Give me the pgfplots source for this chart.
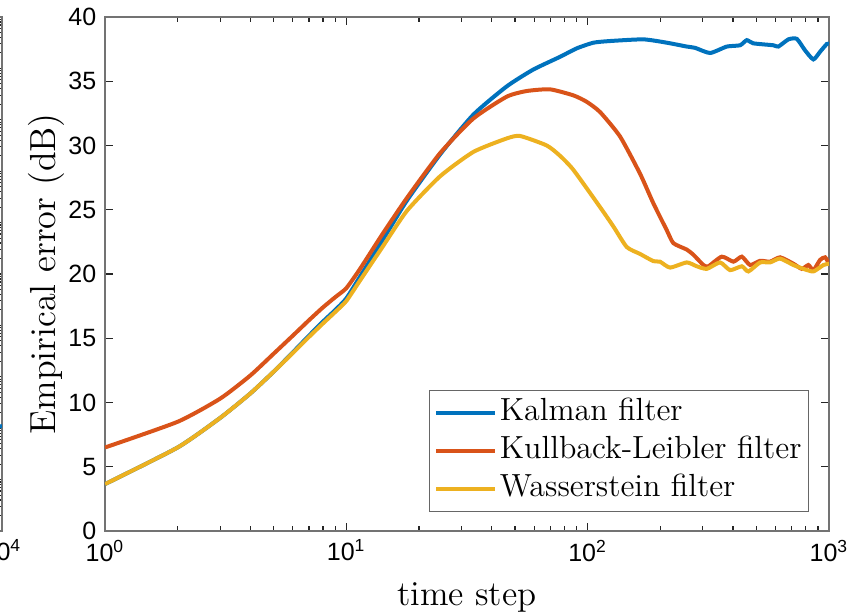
\documentclass[border=0pt]{standalone}
\usepackage{fontspec}
\usepackage{pgfplots}
\pgfplotsset{compat=1.18}
\newfontfamily\arial{Liberation Sans}
\definecolor{mblue}{HTML}{0072BD}
\definecolor{morange}{HTML}{D95319}
\definecolor{myellow}{HTML}{EDB120}

\pgfplotsset{
  mlab/.style={
    scale only axis, width=289.6pt, height=205.6pt,
    axis line style={black!55, line width=0.45pt},
    tick style={black!85, line width=0.45pt},
    tick align=inside,
    major tick length=3.2pt, minor tick length=2pt,
    /pgf/number format/assume math mode=true,
    ticklabel style={font=\arial\fontsize{10}{12}\selectfont},
  }
}

\begin{document}
\begin{tikzpicture}
  % neighbouring panel, only its right edge shows
  \begin{axis}[mlab, at={(-41.2pt,0pt)}, anchor=south east,
      xmode=log, ymode=log, xmin=1, xmax=1e4, ymin=1e-8, ymax=1e2,
      xtick={1,10,100,1000,10000},
      xticklabels={10\textsuperscript{0},10\textsuperscript{1},10\textsuperscript{2},10\textsuperscript{3},10\textsuperscript{4}},
      ytickten={-8,...,2}, yticklabels={}]
    \addplot[mblue, line width=1.6pt] coordinates {(3000,6e-7) (6000,8e-7) (10000,1.1e-6)};
  \end{axis}

  \begin{axis}[mlab, at={(0pt,0pt)}, anchor=south west,
      xmode=log, xmin=1, xmax=1000, ymin=0, ymax=40,
      xtick={1,10,100,1000},
      xticklabels={10\textsuperscript{0},10\textsuperscript{1},10\textsuperscript{2},10\textsuperscript{3}},
      ytick={0,5,...,40},
      xlabel={time step}, ylabel={Empirical error (dB)},
      label style={font=\fontsize{14}{16}\selectfont},
      xlabel style={at={(axis description cs:0.5,0)}, anchor=north, yshift=-17pt},
      ylabel style={at={(axis description cs:-0.043,0.5)}, anchor=south, font=\fontsize{14.5}{16}\selectfont},
      legend style={at={(0.9724,0.037)}, anchor=south east, draw=black!60, line width=0.45pt,
        inner xsep=1.8pt, inner ysep=1.2pt, font=\fontsize{12.8}{14}\selectfont,
        nodes={inner xsep=1pt, inner ysep=1.65pt, text height=9pt, text depth=3pt}},
      legend cell align=left,
      legend image code/.code={\draw[#1] (0pt,0pt) -- (23.6pt,0pt);},
      every axis plot/.append style={line width=1.6pt, smooth, tension=0.35}]
    \addplot[mblue] coordinates {
      (1,3.65) (2,6.5) (3,8.8) (4,10.7) (5,12.4) (6,13.9) (7,15.2) (8,16.3) (9,17.2) (10,18.1)
      (11.4,19.8) (14,22.5) (17.8,25.7) (24.45,29.3) (33.6,32.4) (46.2,34.6) (59.4,35.9)
      (76.8,36.9) (90.1,37.56) (105.6,38.0) (123.8,38.13) (170.2,38.26) (212.8,38.0)
      (257.4,37.7) (278.7,37.6) (321.6,37.2) (377.1,37.7) (428.2,37.8) (456.4,38.2)
      (486.1,37.95) (588.3,37.8) (617,37.7) (678.8,38.26) (735.6,38.3) (796.2,37.4)
      (861.7,36.7) (918.7,37.3) (979.3,37.9) (1000,37.9)};
    \addlegendentry{Kalman filter}
    \addplot[morange] coordinates {
      (1,6.5) (2,8.5) (3,10.3) (4,12.1) (5,13.8) (6,15.2) (7,16.4) (8,17.4) (9,18.2) (10,18.9)
      (11.4,20.4) (14,23.0) (17.8,25.9) (24.45,29.4) (33.6,32.1) (46.2,33.8) (55.9,34.24)
      (69.8,34.37) (87.3,33.9) (99.1,33.4) (112.6,32.6) (136.2,30.7) (164.9,27.8) (187.2,25.5)
      (212.8,23.4) (226.6,22.4) (257.4,21.9) (274.2,21.5) (301.7,20.7) (316.4,20.6)
      (359.5,21.35) (401.7,20.96) (435.2,21.35) (471,20.7) (518.2,21.03) (570,20.96)
      (627.1,21.3) (712,20.8) (771.6,20.4) (821.5,20.7) (861.7,20.3) (918.7,21.1)
      (963.8,21.3) (1000,20.8)};
    \addlegendentry{Kullback-Leibler filter}
    \addplot[myellow] coordinates {
      (1,3.65) (2,6.5) (3,8.8) (4,10.7) (5,12.4) (6,13.85) (7,15.1) (8,16.15) (9,17.05) (10,17.9)
      (11.4,19.5) (14,22.0) (17.8,24.9) (24.45,27.6) (33.6,29.5) (46.2,30.55) (52.5,30.74)
      (67.7,30.0) (76.8,29.2) (87.3,28.1) (112.6,25.2) (127.8,23.7) (145.2,22.1) (164.9,21.56)
      (187.2,21.0) (199.5,20.96) (219.5,20.5) (257.4,20.9) (283.2,20.6) (311.6,20.4)
      (353.8,20.9) (389.2,20.3) (435.2,20.6) (463.5,20.2) (518.2,20.9) (570,20.9)
      (627.1,21.2) (712,20.7) (783.4,20.4) (861.7,20.2) (948.3,20.7) (1000,20.8)};
    \addlegendentry{Wasserstein filter}
    \coordinate (bl) at (rel axis cs:0,0);
    \coordinate (tr) at (rel axis cs:1,1);
  \end{axis}
  \pgfresetboundingbox
  \path[use as bounding box] ([shift={(-42pt,-34pt)}]bl) rectangle ([shift={(11.6pt,6.8pt)}]tr);
\end{tikzpicture}
\end{document}
